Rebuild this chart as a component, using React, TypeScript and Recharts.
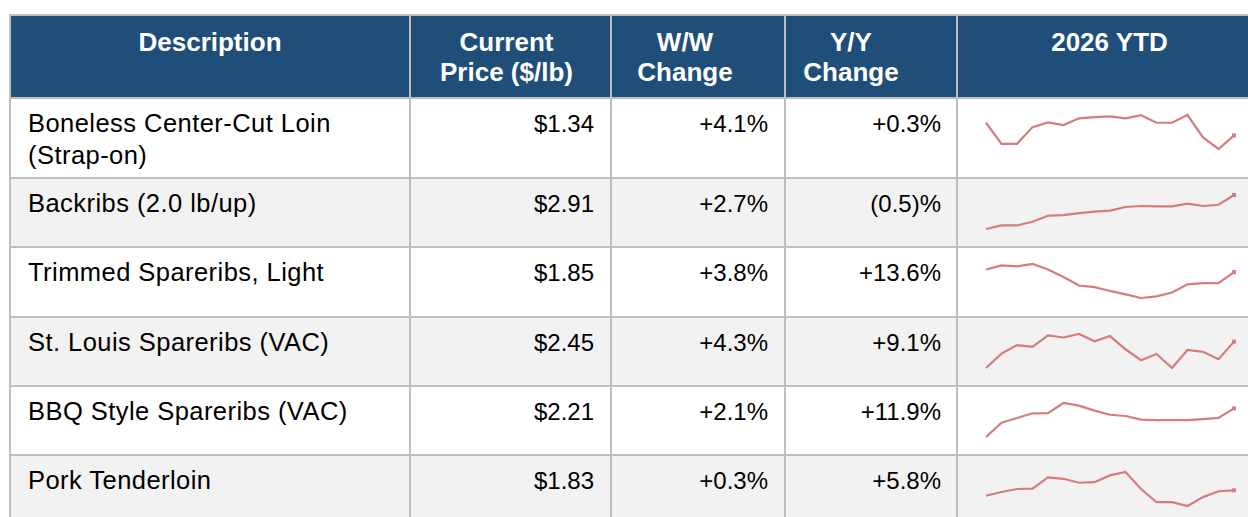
import { LineChart, Line, XAxis, YAxis } from 'recharts';

// weekly points, 2026 year to date
const weeks = ['W1', 'W2', 'W3', 'W4', 'W5', 'W6', 'W7', 'W8', 'W9', 'W10', 'W11', 'W12', 'W13', 'W14', 'W15', 'W16', 'W17'];

const headers = ['Description', 'Current\nPrice ($/lb)', 'W/W\nChange', 'Y/Y\nChange', '2026 YTD'];

const descriptions = [
  'Boneless Center-Cut Loin\n(Strap-on)',
  'Backribs (2.0 lb/up)',
  'Trimmed Spareribs, Light',
  'St. Louis Spareribs (VAC)',
  'BBQ Style Spareribs (VAC)',
  'Pork Tenderloin',
];

const prices = [1.34, 2.91, 1.85, 2.45, 2.21, 1.83];
const wowChange = [4.1, 2.7, 3.8, 4.3, 2.1, 0.3];
const yoyChange = [0.3, -0.5, 13.6, 9.1, 11.9, 5.8];

const loinYtd = [1.389, 1.307, 1.307, 1.372, 1.39, 1.38, 1.406, 1.411, 1.414, 1.406, 1.418, 1.389, 1.389, 1.419, 1.332, 1.287, 1.34];
const backribsYtd = [2.641, 2.669, 2.669, 2.698, 2.746, 2.751, 2.767, 2.779, 2.787, 2.815, 2.823, 2.82, 2.82, 2.841, 2.823, 2.833, 2.91];
const trimmedYtd = [1.867, 1.892, 1.886, 1.901, 1.867, 1.82, 1.767, 1.757, 1.733, 1.712, 1.689, 1.699, 1.723, 1.774, 1.782, 1.782, 1.85];
const stLouisYtd = [2.298, 2.381, 2.43, 2.42, 2.486, 2.474, 2.494, 2.452, 2.482, 2.406, 2.343, 2.379, 2.298, 2.402, 2.391, 2.349, 2.45];
const bbqYtd = [2.071, 2.14, 2.163, 2.186, 2.187, 2.236, 2.223, 2.199, 2.179, 2.173, 2.155, 2.153, 2.153, 2.153, 2.158, 2.164, 2.21];
const tenderloinYtd = [1.801, 1.821, 1.837, 1.839, 1.898, 1.891, 1.87, 1.873, 1.909, 1.927, 1.837, 1.767, 1.767, 1.747, 1.794, 1.825, 1.83];

const ytdSeries = [loinYtd, backribsYtd, trimmedYtd, stLouisYtd, bbqYtd, tenderloinYtd];

const NAVY = '#1f4e79';
const GRID = '#bfbfbf';
const LINE = '#d67c7c';
const FONT = '"Liberation Sans", Arial, sans-serif';

const colEdges = [10, 410, 611, 785, 957, 1262];
const rowEdges = [15, 98, 178, 247, 317, 386, 455, 525];
const headerShift = [0, -4, -13, -20, 0];

const fmtPrice = (v: number) => `$${v.toFixed(2)}`;
const fmtPct = (v: number) => (v < 0 ? `(${Math.abs(v).toFixed(1)})%` : `+${v.toFixed(1)}%`);

function Sparkline({ values }: { values: number[] }) {
  const data = weeks.map((w, i) => ({ week: w, value: values[i] }));
  const last = weeks.length - 1;

  const EndDot = (props: any) => {
    const { cx, cy, index } = props;
    if (index !== last) return <g key={`d${index}`} />;
    return <rect key={`d${index}`} x={cx - 2} y={cy - 2} width={4} height={4} fill={LINE} />;
  };

  return (
    <LineChart width={292} height={52} data={data} margin={{ top: 9, right: 16, bottom: 9, left: 28 }}>
      <XAxis dataKey="week" hide />
      <YAxis hide domain={['dataMin', 'dataMax']} />
      <Line
        type="linear"
        dataKey="value"
        stroke={LINE}
        strokeWidth={2.2}
        dot={EndDot}
        activeDot={false}
        isAnimationActive={false}
      />
    </LineChart>
  );
}

export default function App() {
  const cells: any[] = [];

  // header background
  cells.push(
    <div key="hdr" style={{ position: 'absolute', left: colEdges[0], top: rowEdges[0], width: colEdges[5] - colEdges[0], height: rowEdges[1] - rowEdges[0], background: NAVY }} />
  );

  // row backgrounds
  descriptions.forEach((_, r) => {
    cells.push(
      <div
        key={`bg${r}`}
        style={{
          position: 'absolute',
          left: colEdges[0],
          top: rowEdges[r + 1],
          width: colEdges[5] - colEdges[0],
          height: rowEdges[r + 2] - rowEdges[r + 1],
          background: r % 2 === 1 ? '#f2f2f2' : '#ffffff',
        }}
      />
    );
  });

  // header text
  headers.forEach((h, c) => {
    cells.push(
      <div
        key={`h${c}`}
        style={{
          position: 'absolute',
          left: colEdges[c] + headerShift[c],
          top: rowEdges[0] + 12,
          width: colEdges[c + 1] - colEdges[c],
          textAlign: 'center',
          whiteSpace: 'pre-line',
          color: '#ffffff',
          fontWeight: 'bold',
          fontSize: 26,
          lineHeight: '30px',
        }}
      >
        {h}
      </div>
    );
  });

  // body rows
  descriptions.forEach((d, r) => {
    const top = rowEdges[r + 1] + 10;
    const textStyle: any = { position: 'absolute', top, fontSize: 24, lineHeight: '31.5px', color: '#000', whiteSpace: 'pre-line' };
    cells.push(
      <div key={`d${r}`} style={{ ...textStyle, left: colEdges[0] + 18, fontSize: 25.5, letterSpacing: 0.45 }}>{d}</div>,
      <div key={`p${r}`} style={{ ...textStyle, right: 1248 - colEdges[2] + 17, textAlign: 'right' }}>{fmtPrice(prices[r])}</div>,
      <div key={`w${r}`} style={{ ...textStyle, right: 1248 - colEdges[3] + 17, textAlign: 'right' }}>{fmtPct(wowChange[r])}</div>,
      <div key={`y${r}`} style={{ ...textStyle, right: 1248 - colEdges[4] + 16, textAlign: 'right' }}>{fmtPct(yoyChange[r])}</div>,
      <div key={`s${r}`} style={{ position: 'absolute', left: colEdges[4] + 1, top: rowEdges[r + 1] + 8 }}>
        <Sparkline values={ytdSeries[r]} />
      </div>
    );
  });

  // grid lines
  rowEdges.forEach((y, i) => {
    cells.push(
      <div key={`hl${i}`} style={{ position: 'absolute', left: colEdges[0] - 1, top: y - 1, width: colEdges[5] - colEdges[0] + 2, height: 2, background: GRID }} />
    );
  });
  colEdges.forEach((x, i) => {
    cells.push(
      <div key={`vl${i}`} style={{ position: 'absolute', left: x - 1, top: rowEdges[0] - 1, width: 2, height: rowEdges[7] - rowEdges[0] + 2, background: GRID }} />
    );
  });

  return (
    <div style={{ position: 'absolute', left: 0, top: 0, width: 1248, height: 517, overflow: 'hidden', background: '#ffffff', fontFamily: FONT }}>
      {cells}
    </div>
  );
}
